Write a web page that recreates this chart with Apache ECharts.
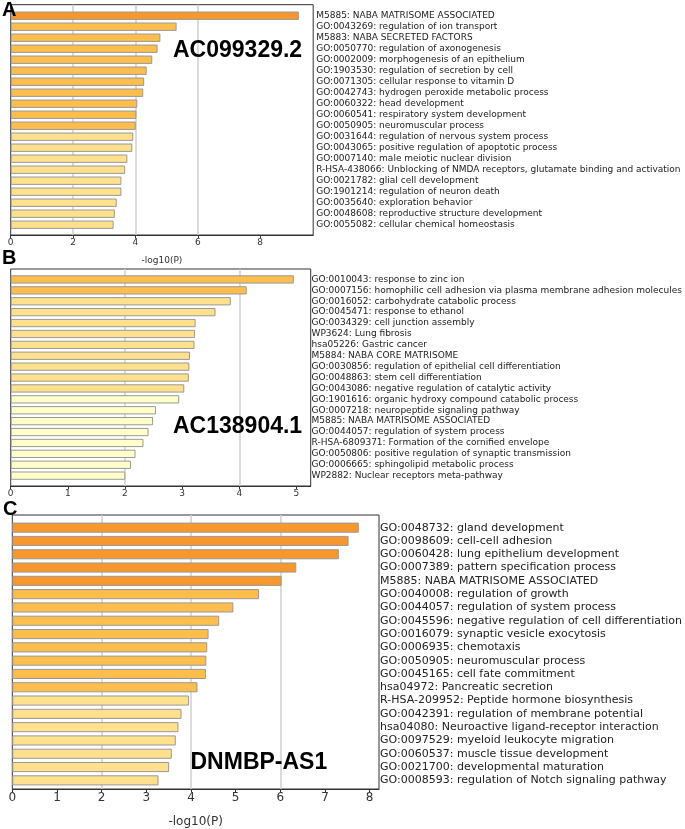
<!DOCTYPE html>
<html><head><meta charset="utf-8">
<script src="https://cdn.jsdelivr.net/npm/echarts@6/dist/echarts.min.js"></script>
<style>html,body{margin:0;padding:0;background:#fff}#c{width:685px;height:829px}</style>
</head><body><div id="c"></div>
<script>
// ---------- DATA ----------
const termsA = [
  "M5885: NABA MATRISOME ASSOCIATED",
  "GO:0043269: regulation of ion transport",
  "M5883: NABA SECRETED FACTORS",
  "GO:0050770: regulation of axonogenesis",
  "GO:0002009: morphogenesis of an epithelium",
  "GO:1903530: regulation of secretion by cell",
  "GO:0071305: cellular response to vitamin D",
  "GO:0042743: hydrogen peroxide metabolic process",
  "GO:0060322: head development",
  "GO:0060541: respiratory system development",
  "GO:0050905: neuromuscular process",
  "GO:0031644: regulation of nervous system process",
  "GO:0043065: positive regulation of apoptotic process",
  "GO:0007140: male meiotic nuclear division",
  "R-HSA-438066: Unblocking of NMDA receptors, glutamate binding and activation",
  "GO:0021782: glial cell development",
  "GO:1901214: regulation of neuron death",
  "GO:0035640: exploration behavior",
  "GO:0048608: reproductive structure development",
  "GO:0055082: cellular chemical homeostasis"
];
const valuesA = [9.24, 5.32, 4.80, 4.71, 4.54, 4.36, 4.28, 4.25, 4.06, 4.03, 4.01, 3.93, 3.90, 3.74, 3.67, 3.55, 3.55, 3.40, 3.34, 3.30];

const termsB = [
  "GO:0010043: response to zinc ion",
  "GO:0007156: homophilic cell adhesion via plasma membrane adhesion molecules",
  "GO:0016052: carbohydrate catabolic process",
  "GO:0045471: response to ethanol",
  "GO:0034329: cell junction assembly",
  "WP3624: Lung fibrosis",
  "hsa05226: Gastric cancer",
  "M5884: NABA CORE MATRISOME",
  "GO:0030856: regulation of epithelial cell differentiation",
  "GO:0048863: stem cell differentiation",
  "GO:0043086: negative regulation of catalytic activity",
  "GO:1901616: organic hydroxy compound catabolic process",
  "GO:0007218: neuropeptide signaling pathway",
  "M5885: NABA MATRISOME ASSOCIATED",
  "GO:0044057: regulation of system process",
  "R-HSA-6809371: Formation of the cornified envelope",
  "GO:0050806: positive regulation of synaptic transmission",
  "GO:0006665: sphingolipid metabolic process",
  "WP2882: Nuclear receptors meta-pathway"
];
const valuesB = [4.99, 4.16, 3.88, 3.61, 3.26, 3.25, 3.24, 3.16, 3.15, 3.14, 3.06, 2.97, 2.56, 2.51, 2.43, 2.34, 2.20, 2.12, 2.02];

const termsC = [
  "GO:0048732: gland development",
  "GO:0098609: cell-cell adhesion",
  "GO:0060428: lung epithelium development",
  "GO:0007389: pattern specification process",
  "M5885: NABA MATRISOME ASSOCIATED",
  "GO:0040008: regulation of growth",
  "GO:0044057: regulation of system process",
  "GO:0045596: negative regulation of cell differentiation",
  "GO:0016079: synaptic vesicle exocytosis",
  "GO:0006935: chemotaxis",
  "GO:0050905: neuromuscular process",
  "GO:0045165: cell fate commitment",
  "hsa04972: Pancreatic secretion",
  "R-HSA-209952: Peptide hormone biosynthesis",
  "GO:0042391: regulation of membrane potential",
  "hsa04080: Neuroactive ligand-receptor interaction",
  "GO:0097529: myeloid leukocyte migration",
  "GO:0060537: muscle tissue development",
  "GO:0021700: developmental maturation",
  "GO:0008593: regulation of Notch signaling pathway"
];
const valuesC = [7.82, 7.59, 7.37, 6.41, 6.08, 5.57, 4.99, 4.67, 4.43, 4.40, 4.38, 4.37, 4.18, 3.99, 3.82, 3.75, 3.69, 3.60, 3.54, 3.30];

const panelLetters = ["A", "B", "C"];
const geneNames = ["AC099329.2", "AC138904.1", "DNMBP-AS1"];
const axisTitle = "-log10(P)";
const axisMax = [9.7, 5.25, 8.21];
const tickStep = [2, 1, 1];
const refLinesA = [2, 4, 6];
const refLinesB = [2, 4];
const refLinesC = [2, 4, 6];

// ---------- STYLE / LAYOUT ----------
const COLORS = { dark: '#F8982C', mid: '#FDBE4E', light: '#FEE08D', pale: '#FFFFCC' };
function binColor(v) {
  if (v >= 6) return COLORS.dark;
  if (v >= 4) return COLORS.mid;
  if (v >= 3) return COLORS.light;
  return COLORS.pale;
}
const LABEL_FONT = 'DejaVu Sans';
const BIG_FONT = 'Liberation Sans, Arial, sans-serif';
const GRIDLINE = '#cfcfcf';
const NONE = 'rgba(0,0,0,0)';

const panels = [
  { terms: termsA, values: valuesA, refs: refLinesA, frame: {left: 10.7, top: 4.7, width: 302.5, height: 230.3}, barsTop: 10.2, band: 11, tickFont: 9, labelFont: 9, labelMargin: 3, name: true, nameGap: 21, nameFont: 9 },
  { terms: termsB, values: valuesB, refs: refLinesB, frame: {left: 10.7, top: 269, width: 300, height: 217}, barsTop: 274, band: 10.9, tickFont: 9, labelFont: 9, labelMargin: 3, name: false },
  { terms: termsC, values: valuesC, refs: refLinesC, frame: {left: 12.3, top: 515, width: 366.7, height: 278}, barsTop: 521, band: 13.3, tickFont: 12, labelFont: 11, labelMargin: 4, name: true, nameGap: 27, nameFont: 12 }
];

// colour per tick position: visible only at the reference values
function splitColors(max, step, refs) {
  const cols = [];
  for (let k = 0; k * step <= max + 1e-9; k++) {
    const v = +(k * step).toFixed(6);
    cols.push(refs.indexOf(v) >= 0 ? GRIDLINE : NONE);
  }
  while (cols.length < 40) cols.push(NONE);
  return cols;
}

const grid = [], xAxis = [], yAxis = [], series = [];
panels.forEach((p, i) => {
  const fi = grid.length;
  grid.push(Object.assign({ show: true, borderColor: '#333', borderWidth: 1, backgroundColor: '#fff', containLabel: false }, p.frame));
  const bi = grid.length;
  grid.push({ left: p.frame.left, width: p.frame.width, top: p.barsTop, height: p.band * p.terms.length, show: false });

  xAxis.push({
    gridIndex: fi, type: 'value', min: 0, max: axisMax[i], interval: tickStep[i],
    axisLine: { show: true, lineStyle: { color: '#333', width: 1 } },
    axisTick: { show: true, length: 3, lineStyle: { color: '#333' } },
    axisLabel: { fontSize: p.tickFont, color: '#333', fontFamily: LABEL_FONT, margin: 3,
      showMaxLabel: false, formatter: v => String(v) },
    splitLine: { show: true, lineStyle: { color: splitColors(axisMax[i], tickStep[i], p.refs), width: 1.5, type: 'solid' } },
    name: p.name ? axisTitle : '', nameLocation: 'middle', nameGap: p.nameGap || 20,
    nameTextStyle: { fontSize: p.nameFont || 9, color: '#333', fontFamily: LABEL_FONT }
  });
  xAxis.push({ gridIndex: bi, type: 'value', min: 0, max: axisMax[i], show: false });

  yAxis.push({ gridIndex: fi, type: 'value', min: 0, max: 1, show: false });
  yAxis.push({
    gridIndex: bi, type: 'category', data: p.terms, inverse: true, position: 'right',
    axisLine: { show: false }, axisTick: { show: false }, splitLine: { show: false },
    axisLabel: { interval: 0, fontSize: p.labelFont, color: '#222', fontFamily: LABEL_FONT, margin: p.labelMargin, align: 'left' }
  });

  series.push({
    type: 'bar', xAxisIndex: bi, yAxisIndex: bi, data: p.values, z: 3,
    barCategoryGap: '24%', animation: false,
    itemStyle: { color: prm => binColor(prm.value), borderColor: '#999', borderWidth: 1 }
  });
});

const letterPos = [[2, 10], [2, 258], [3, 509]];
const genePos = [[173, 51], [173, 427], [190.5, 763]];
const graphic = [];
panelLetters.forEach((t, i) => graphic.push({ type: 'text', z: 100, x: letterPos[i][0], y: letterPos[i][1],
  style: { text: t, font: 'bold 20px ' + BIG_FONT, fill: '#000', textVerticalAlign: 'middle' } }));
geneNames.forEach((t, i) => graphic.push({ type: 'text', z: 100, x: genePos[i][0], y: genePos[i][1],
  style: { text: t, font: 'bold 23px ' + BIG_FONT, fill: '#000', textVerticalAlign: 'middle' } }));

const chart = echarts.init(document.getElementById('c'), null, { renderer: 'canvas' });
chart.setOption({ animation: false, backgroundColor: '#fff', grid, xAxis, yAxis, series, graphic });
</script></body></html>
